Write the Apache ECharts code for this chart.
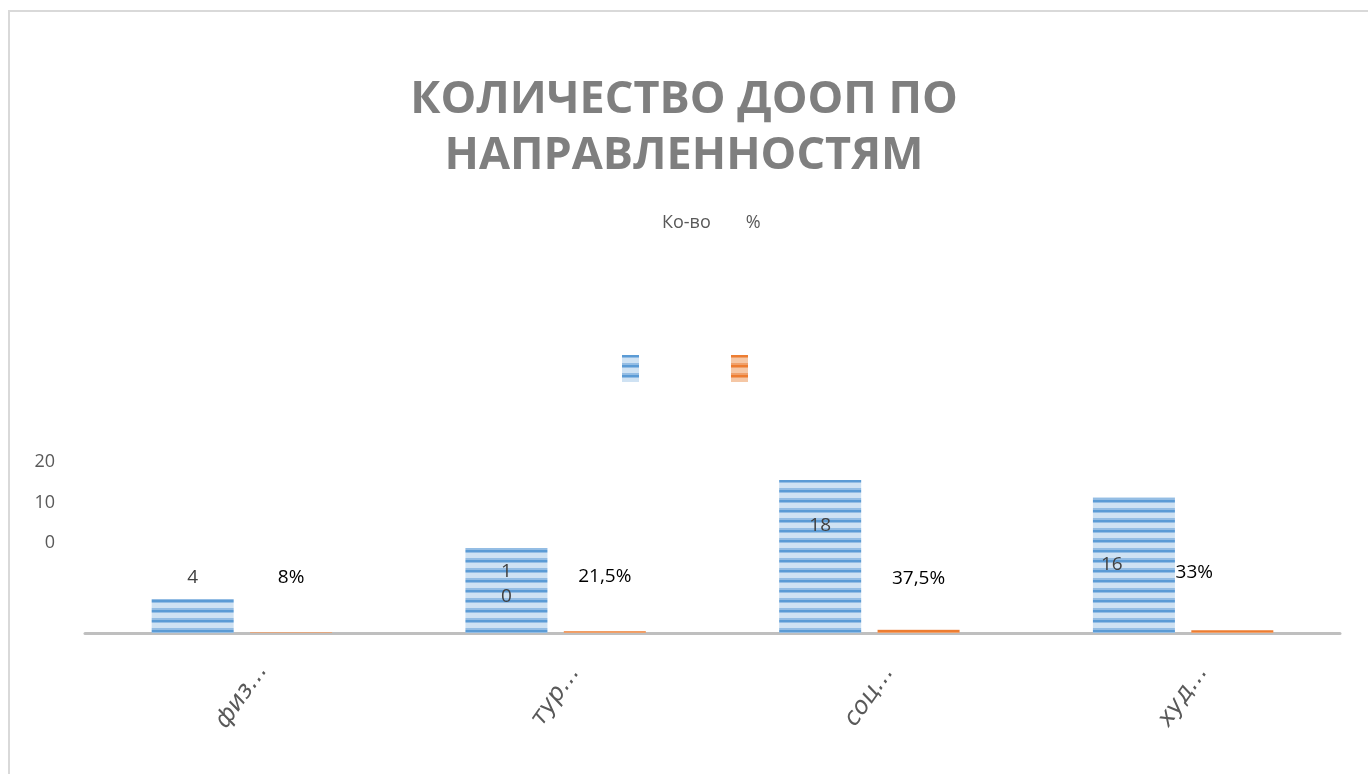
<!DOCTYPE html>
<html>
<head>
<meta charset="utf-8">
<script src="https://cdn.jsdelivr.net/npm/echarts@6/dist/echarts.min.js"></script>
<style>
	html, body { margin: 0; padding: 0; background: #fff; }
	#chart { width: 1368px; height: 774px; }
	#frame {
		position: absolute; left: 8px; top: 10px; right: -10px; bottom: -10px;
		border-left: 2px solid #d9d9d9; border-top: 2px solid #d9d9d9;
		pointer-events: none;
	}
</style>
</head>
<body>
<div id="chart"></div>
<div id="frame"></div>
<script>
// data
var categories = ["физ…", "тур…", "соц…", "худ…"];
var countValues = [4, 10, 18, 16];
var percentValues = [0.08, 0.215, 0.375, 0.33];
var legendNames = ["Ко-во", "%"];
var yTicks = { min: 0, max: 20, interval: 10 };

var chart = echarts.init(document.getElementById("chart"), null, { renderer: "canvas" });

// striped fill like the office preset texture
function stripes(dark, mid, light) {
	var c = document.createElement("canvas");
	c.width = 4;
	c.height = 10;
	var g = c.getContext("2d");
	var rows = [dark, dark, mid, light, light, light, light, light, mid, mid];
	rows.forEach(function (col, i) {
		g.fillStyle = col;
		g.fillRect(0, i, 4, 1);
	});
	return { image: c, repeat: "repeat" };
}
var bluePattern = stripes("#5b9bd5", "#94bde4", "#cfe2f3");
var orangePattern = stripes("#ed7d31", "#f0a06a", "#f5c7a5");

function pct(v) {
	var s = (Math.round(v * 1000) / 10).toString();
	return s.replace(".", ",") + "%";
}

// label placement per bar (hand placed in the original)
var countLabels = [
	{ position: "top", distance: 12 },
	{ position: "inside", offset: [0, -6], width: 8, overflow: "breakAll", lineHeight: 25 },
	{ position: "insideTop", distance: 36 },
	{ position: "insideLeft", distance: 8 }
];
var percentLabels = [
	{ position: "top", distance: 45 },
	{ position: "top", distance: 45 },
	{ position: "top", distance: 42 },
	{ position: "top", distance: 48, offset: [-38, 0] }
];

var labelFont = { fontFamily: "Open Sans", fontSize: 19 };

option = {
	backgroundColor: "#fff",
	animation: false,
	title: {
		text: "КОЛИЧЕСТВО ДООП ПО\nНАПРАВЛЕННОСТЯМ",
		left: "center",
		top: 67,
		textStyle: {
			fontFamily: "Open Sans",
			fontSize: 45,
			fontWeight: "bold",
			color: "#7f7f7f",
			lineHeight: 56
		}
	},
	legend: [
		{
			data: legendNames,
			left: 652,
			top: 209,
			icon: "rect",
			itemWidth: 0,
			itemHeight: 0,
			itemGap: 30,
			selectedMode: false,
			textStyle: { fontFamily: "Open Sans", fontSize: 18, color: "#595959" }
		},
		{
			data: legendNames,
			left: 622,
			top: 355,
			padding: 0,
			icon: "rect",
			itemWidth: 17,
			itemHeight: 27,
			itemGap: 92,
			selectedMode: false,
			formatter: function () { return ""; }
		}
	],
	grid: [
		{ left: 85, right: 28, top: 463, bottom: 141 },
		{ left: 60, width: 10, top: 462, height: 81 }
	],
	xAxis: [
		{
			type: "category",
			data: categories,
			axisLine: { lineStyle: { color: "#bfbfbf", width: 3 } },
			axisTick: { show: false },
			axisLabel: {
				rotate: 55,
				align: "center",
				verticalAlign: "middle",
				margin: 63,
				fontFamily: "DejaVu Sans",
				fontStyle: "oblique",
				fontSize: 24,
				color: "#595959"
			}
		},
		{ type: "value", gridIndex: 1, show: false }
	],
	yAxis: [
		{ type: "value", min: yTicks.min, max: yTicks.max, show: false },
		{
			type: "value",
			gridIndex: 1,
			min: yTicks.min,
			max: yTicks.max,
			interval: yTicks.interval,
			axisLine: { show: false },
			axisTick: { show: false },
			splitLine: { show: false },
			axisLabel: { margin: 5, fontFamily: "Open Sans", fontSize: 18, color: "#595959" }
		}
	],
	series: [
		{
			name: legendNames[0],
			type: "bar",
			barWidth: 82,
			barGap: "20%",
			itemStyle: { color: bluePattern },
			data: countValues.map(function (v, i) {
				return { value: v, label: countLabels[i] };
			}),
			label: Object.assign({ show: true, color: "#404040" }, labelFont)
		},
		{
			name: legendNames[1],
			type: "bar",
			barWidth: 82,
			itemStyle: { color: orangePattern },
			data: percentValues.map(function (v, i) {
				return { value: v, label: percentLabels[i] };
			}),
			label: Object.assign({
				show: true,
				color: "#000",
				formatter: function (p) { return pct(p.value); }
			}, labelFont)
		}
	]
};
chart.setOption(option);
</script>
</body>
</html>
